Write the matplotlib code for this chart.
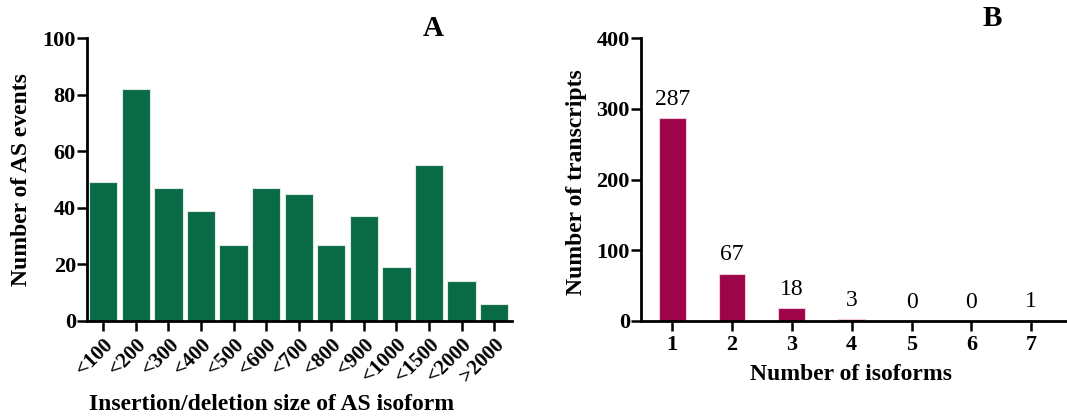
import numpy as np
import matplotlib
matplotlib.use("Agg")
import matplotlib.pyplot as plt

# panel A data
size_bins = ['<100', '<200', '<300', '<400', '<500', '<600', '<700',
             '<800', '<900', '<1000', '<1500', '<2000', '>2000']
as_events = [49, 82, 47, 39, 27, 47, 45, 27, 37, 19, 55, 14, 6]

# panel B data
isoforms = [1, 2, 3, 4, 5, 6, 7]
transcripts = [287, 67, 18, 3, 0, 0, 1]

green = '#086b45'
crimson = '#9e0549'

plt.rcParams['font.family'] = ['Liberation Serif', 'DejaVu Serif']
plt.rcParams['font.weight'] = 'bold'

W, H = 1067, 416
fig = plt.figure(figsize=(W / 100, H / 100), dpi=100)
axA = fig.add_axes([87 / W, 1 - 321 / H, (512 - 87) / W, (321 - 38) / H])
axB = fig.add_axes([641 / W, 1 - 321 / H, (1066 - 641) / W, (321 - 38) / H])


def style_axis(ax):
    for s in ['top', 'right']:
        ax.spines[s].set_visible(False)
    for s in ['left', 'bottom']:
        ax.spines[s].set_linewidth(2)
    ax.tick_params(direction='out', length=7, width=1.8, labelsize=16)
    ax.tick_params(axis='y', pad=1)
    ax.tick_params(axis='x', pad=3)
    for lab in ax.get_xticklabels() + ax.get_yticklabels():
        lab.set_fontweight('bold')


# A
xa = np.arange(len(size_bins))
axA.bar(xa, as_events, width=0.87, color=green, edgecolor='#dfe9e3', linewidth=0.8)
axA.set_xlim(-0.5, len(size_bins) - 0.45)
axA.set_ylim(0, 100)
axA.set_yticks([0, 20, 40, 60, 80, 100])
axA.set_xticks(xa)
style_axis(axA)
axA.set_xticklabels(size_bins, rotation=45, ha='right', rotation_mode='anchor',
                    fontsize=15, fontweight='bold')
axA.set_ylabel('Number of AS events', fontsize=17, fontweight='bold')
axA.yaxis.set_label_coords(-0.129, 0.5)
axA.set_xlabel('Insertion/deletion size of AS isoform', fontsize=17, fontweight='bold')
axA.xaxis.set_label_coords(0.435, -0.258)
fig.text(433 / W, 1 - 28 / H, 'A', fontsize=21, fontweight='bold', ha='center', va='center')

# B
axB.bar(isoforms, transcripts, width=0.45, color=crimson, edgecolor='#f0c8d8', linewidth=0.8)
axB.set_xlim(0.48, 7.58)
axB.set_ylim(0, 400)
axB.set_yticks([0, 100, 200, 300, 400])
axB.set_xticks(isoforms)
style_axis(axB)
for x, v in zip(isoforms, transcripts):
    axB.annotate(str(v), (x, v), xytext=(0, 6), textcoords='offset points',
                 ha='center', va='bottom', fontsize=17, fontweight='normal')
axB.set_ylabel('Number of transcripts', fontsize=17, fontweight='bold')
axB.yaxis.set_label_coords(-0.127, 0.49)
axB.set_xlabel('Number of isoforms', fontsize=17, fontweight='bold')
axB.xaxis.set_label_coords(0.494, -0.152)
fig.text(992 / W, 1 - 18 / H, 'B', fontsize=21, fontweight='bold', ha='center', va='center')

fig.savefig('out.png', dpi=100)
